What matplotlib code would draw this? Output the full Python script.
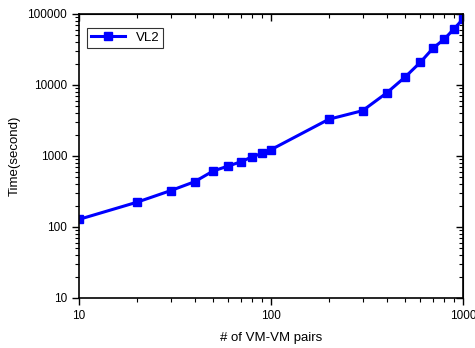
import matplotlib
matplotlib.use("Agg")
import matplotlib.pyplot as plt
from matplotlib.ticker import LogLocator, FuncFormatter, NullFormatter

plt.rcParams["font.family"] = ["Liberation Sans", "DejaVu Sans"]

# data
pairs = [10, 20, 30, 40, 50, 60, 70, 80, 90, 100,
         200, 300, 400, 500, 600, 700, 800, 900, 1000]
vl2_time = [128, 223, 325, 434, 615, 723, 832, 977, 1092, 1227,
            3290, 4350, 7710, 12970, 20900, 33200, 44400, 62100, 85100]

fig = plt.figure(figsize=(4.75, 3.48), dpi=100)
ax = fig.add_axes([0.1663, 0.1437, 0.8084, 0.8161])

ax.plot(pairs, vl2_time, color="#0000ff", linewidth=2.2, marker="s",
        markersize=5.5, label="VL2")

ax.set_xscale("log")
ax.set_yscale("log")
ax.set_xlim(10, 1000)
ax.set_ylim(10, 100000)

plain = FuncFormatter(lambda v, pos: f"{int(round(v))}")


def set_log_ticks(axis, labels=True):
    axis.set_major_locator(LogLocator(base=10, numticks=10))
    axis.set_minor_locator(LogLocator(base=10, subs=range(2, 10), numticks=20))
    axis.set_major_formatter(plain if labels else NullFormatter())
    axis.set_minor_formatter(NullFormatter())


set_log_ticks(ax.xaxis)
set_log_ticks(ax.yaxis)
ax.tick_params(which="major", direction="out", length=5, width=1, labelsize=8.5)
ax.tick_params(which="minor", direction="out", length=3, width=0.8)

# mirrored ticks on top and right, pointing inwards
top = ax.secondary_xaxis("top")
right = ax.secondary_yaxis("right")
set_log_ticks(top.xaxis, labels=False)
set_log_ticks(right.yaxis, labels=False)
for sec in (top, right):
    sec.tick_params(which="major", direction="in", length=5, width=1)
    sec.tick_params(which="minor", direction="in", length=3, width=0.8)

for spine in ax.spines.values():
    spine.set_linewidth(1.2)

ax.set_xlabel("# of VM-VM pairs", fontsize=9.5, labelpad=7)
ax.set_ylabel("Time(second)", fontsize=9.5, labelpad=5)

leg = ax.legend(loc="upper left", fontsize=9.5, fancybox=False, edgecolor="black",
                handlelength=2.6, borderpad=0.3, borderaxespad=0,
                bbox_to_anchor=(0.021, 0.951))
leg.get_frame().set_linewidth(0.8)

fig.savefig("out.png", dpi=100)
